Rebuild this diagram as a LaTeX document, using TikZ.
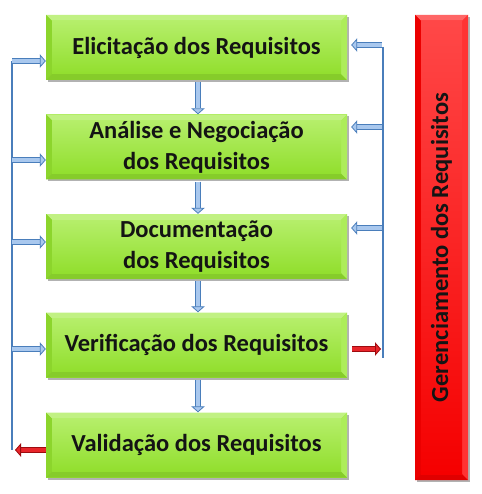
\documentclass[tikz,border=0pt]{standalone}
\usepackage{fontspec}
\setmainfont{Carlito}
\usetikzlibrary{arrows.meta,calc,shadows}
\definecolor{gmain}{HTML}{98E830}
\definecolor{rmain}{HTML}{FF0000}
\definecolor{abord}{HTML}{4A7EBB}
\definecolor{afill}{HTML}{A9C8EE}
\definecolor{rbord}{HTML}{9E0B0F}
\definecolor{rfill}{HTML}{E8252A}
\tikzset{
  bev/.style={path picture={
    \coordinate (nw) at (path picture bounding box.north west);
    \coordinate (ne) at (path picture bounding box.north east);
    \coordinate (sw) at (path picture bounding box.south west);
    \coordinate (se) at (path picture bounding box.south east);
    \fill[#1!60!white] (nw) -- (ne) -- ($(ne)+(-6pt,-6pt)$) -- ($(nw)+(6pt,-6pt)$) -- cycle;
    \fill[#1!92!black] (nw) -- ($(nw)+(6pt,-6pt)$) -- ($(sw)+(6pt,6pt)$) -- (sw) -- cycle;
    \fill[#1!88!black] (sw) -- ($(sw)+(6pt,6pt)$) -- ($(se)+(-6pt,6pt)$) -- (se) -- cycle;
    \fill[#1!80!white] (ne) -- ($(ne)+(-6pt,-6pt)$) -- ($(se)+(-6pt,6pt)$) -- (se) -- cycle;
    \shade[top color=#1!72!white, bottom color=#1!96!black] ($(nw)+(6pt,-6pt)$) rectangle ($(se)+(-6pt,6pt)$);
  }},
  stage/.style={draw=none, fill=gmain, bev=gmain, minimum width=301pt, minimum height=65pt,
    align=center, font=\bfseries\fontsize{24.5pt}{31pt}\selectfont, text=black!92,
    drop shadow={shadow xshift=2pt, shadow yshift=-2pt, opacity=0.3, fill=black}},
  bluearr/.style={draw=abord, line width=0.8pt, double=afill, double distance=4.8pt,
    -{Triangle[length=6pt, width=13.5pt, fill=afill]}},
  redarr/.style={draw=rbord, line width=0.8pt, double=rfill, double distance=4.8pt,
    -{Triangle[length=6pt, width=13.5pt, fill=rfill]}},
  vline/.style={draw=abord, line width=2.8pt},
}
\begin{document}
\begin{tikzpicture}[x=1pt,y=1pt]
\useasboundingbox[fill=white] (0,0) rectangle (481,-494);
\node[stage] (b1) at (196.5,-47.5) {Elicitação dos Requisitos};
\node[stage] (b2) at (196.5,-147) {Análise e Negociação\\dos Requisitos};
\node[stage] (b3) at (196.5,-246.5) {Documentação\\dos Requisitos};
\node[stage] (b4) at (196.5,-345) {Verificação dos Requisitos};
\node[stage] (b5) at (196.5,-445) {Validação dos Requisitos};
\node[draw=none, fill=rmain, bev=rmain, minimum width=53pt, minimum height=465pt,
  drop shadow={shadow xshift=2pt, shadow yshift=-2pt, opacity=0.3, fill=black}] (gr) at (441.5,-247.5) {};
\node[rotate=90, font=\bfseries\fontsize{24.5pt}{30pt}\selectfont, text=black!92] (grt) at ($(gr.center)+(0,0)$) {Gerenciamento dos Requisitos};
% down arrows
\foreach \a/\b in {b1/b2,b2/b3,b3/b4,b4/b5}{
  \draw[bluearr] ($(\a.south)+(1.5,-2)$) -- ($(\b.north)+(1.5,0)$);
}
% left feedback line
\coordinate (L1) at (12,-61);
\coordinate (L2) at (12,-160);
\coordinate (L3) at (12,-242);
\coordinate (L4) at (12,-349);
\coordinate (L5) at (12,-450);
\draw[vline] (L1) -- (L5);
\draw[bluearr] (L1) -- (L1 -| b1.west);
\draw[bluearr] (L2) -- (L2 -| b2.west);
\draw[bluearr] (L3) -- (L3 -| b3.west);
\draw[bluearr] (L4) -- (L4 -| b4.west);
\draw[redarr] (L5 -| b5.west) -- ($(L5)+(3,0)$);
% right management line
\coordinate (R1) at (383,-45);
\coordinate (R2) at (383,-127);
\coordinate (R3) at (383,-228);
\coordinate (R4) at (383,-349);
\coordinate (R5) at (383,-358);
\draw[vline] ($(R1)+(0,-2)$) -- (R5);
\draw[bluearr] ($(R1)+(-1,0)$) -- ($(R1 -| b1.east)+(4,0)$);
\draw[bluearr] ($(R2)+(-1,0)$) -- ($(R2 -| b2.east)+(4,0)$);
\draw[bluearr] ($(R3)+(-1,0)$) -- ($(R3 -| b3.east)+(4,0)$);
\draw[redarr] ($(R4 -| b4.east)+(5,0)$) -- ($(R4)+(-2,0)$);
\end{tikzpicture}
\end{document}
